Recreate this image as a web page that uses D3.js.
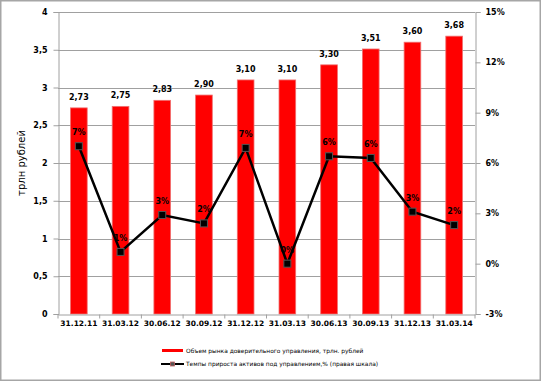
<!DOCTYPE html>
<html><head><meta charset="utf-8">
<script src="https://cdn.jsdelivr.net/npm/d3@7/dist/d3.min.js"></script>
<style>body{margin:0;background:#fff}svg{display:block}</style>
</head><body>
<script>
const categories = ["31.12.11","31.03.12","30.06.12","30.09.12","31.12.12","31.03.13","30.06.13","30.09.13","31.12.13","31.03.14"];
const volume = [2.73,2.75,2.83,2.90,3.10,3.10,3.30,3.51,3.60,3.68];
const volumeLabels = ["2,73","2,75","2,83","2,90","3,10","3,10","3,30","3,51","3,60","3,68"];
const growth = [7.0,0.7,2.9,2.4,6.9,0.0,6.4,6.3,3.1,2.3];
const growthLabels = ["7%","1%","3%","2%","7%","0%","6%","6%","3%","2%"];
const leftTicks = [0,0.5,1,1.5,2,2.5,3,3.5,4];
const rightTicks = [-3,0,3,6,9,12,15];
const legendNames = ["Объем  рынка доверительного управления, трлн. рублей","Темпы прироста активов под управлением,% (правая шкала)"];

const W=542,H=383;
const m={l:58,r:475,t:12,b:314};
const svg=d3.select("body").append("svg").attr("width",W).attr("height",H);
svg.append("rect").attr("x",0.75).attr("y",0.75).attr("width",539.5).attr("height",379.5)
  .attr("fill","#fff").attr("stroke","#a6a6a6").attr("stroke-width",1.5);

const x=d3.scaleBand().domain(categories).range([m.l,m.r]).paddingInner(0.6).paddingOuter(0.3);
const xb=d3.scaleBand().domain(categories).range([m.l,m.r]);
const y=d3.scaleLinear().domain([0,4]).range([m.b,m.t]);
const y2=d3.scaleLinear().domain([-3,15]).range([m.b,m.t]);
const font="DejaVu Sans";

// grid
svg.append("g").selectAll("line").data(leftTicks.slice(1)).join("line")
  .attr("x1",m.l).attr("x2",m.r).attr("y1",d=>Math.round(y(d))+0.5).attr("y2",d=>Math.round(y(d))+0.5)
  .attr("stroke","#a0a0a0").attr("stroke-width",1);

// bars
svg.append("g").selectAll("rect").data(volume).join("rect")
  .attr("x",(d,i)=>x(categories[i])).attr("width",x.bandwidth())
  .attr("y",d=>y(d)).attr("height",d=>y(0)-y(d))
  .attr("fill","#ff0000").attr("stroke","#f07070").attr("stroke-width",0.8);

// bar labels
svg.append("g").selectAll("text").data(volumeLabels).join("text")
  .attr("x",(d,i)=>xb(categories[i])+xb.bandwidth()/2).attr("y",(d,i)=>y(volume[i])-8)
  .attr("text-anchor","middle").attr("font-family",font).attr("font-weight","bold").attr("font-size",8)
  .text(d=>d);

// left axis
const gl=svg.append("g").attr("transform",`translate(${m.l+0.5},0)`)
  .call(d3.axisLeft(y).tickValues(leftTicks).tickSize(5).tickPadding(6).tickFormat(d=>String(d).replace(".",",")));
// right axis
const gr=svg.append("g").attr("transform",`translate(${m.r+0.5},0)`)
  .call(d3.axisRight(y2).tickValues(rightTicks).tickSize(5).tickPadding(5).tickFormat(d=>d+"%"));
// bottom axis
const gb=svg.append("g").attr("transform",`translate(0,${m.b+0.5})`)
  .call(d3.axisBottom(xb).tickSize(0).tickPadding(6));
gb.selectAll(".tick").append("line").attr("x1",-xb.bandwidth()/2).attr("x2",-xb.bandwidth()/2).attr("y2",4).attr("stroke","#a0a0a0");
gb.append("line").attr("x1",m.r).attr("x2",m.r).attr("y2",4).attr("stroke","#a0a0a0");
[gl,gr,gb].forEach(g=>{
  g.selectAll(".domain").attr("stroke","#a0a0a0");
  g.selectAll(".tick line").attr("stroke","#a0a0a0");
  g.selectAll("text").attr("font-family",font).attr("font-weight","bold").attr("font-size",8).attr("fill","#000");
});
gb.selectAll("text").attr("font-size",7.5);

// y title
svg.append("text").attr("transform","translate(25,163) rotate(-90)").attr("text-anchor","middle")
  .attr("font-family",font).attr("font-size",10).text("трлн рублей");

// line
const cx=(i)=>xb(categories[i])+xb.bandwidth()/2;
svg.append("path").datum(growth)
  .attr("d",d3.line().x((d,i)=>cx(i)).y(d=>y2(d)))
  .attr("fill","none").attr("stroke","#000").attr("stroke-width",2.5);
svg.append("g").selectAll("rect").data(growth).join("rect")
  .attr("x",(d,i)=>cx(i)-3.5).attr("y",d=>y2(d)-3.5).attr("width",7).attr("height",7)
  .attr("fill","#000").attr("stroke","#555").attr("stroke-width",1);
svg.append("g").selectAll("text").data(growthLabels).join("text")
  .attr("x",(d,i)=>cx(i)).attr("y",(d,i)=>y2(growth[i])-11)
  .attr("text-anchor","middle").attr("font-family",font).attr("font-weight","bold").attr("font-size",8)
  .text(d=>d);

// legend
const lg=svg.append("g");
lg.append("line").attr("x1",162).attr("x2",183).attr("y1",350.5).attr("y2",350.5).attr("stroke","#ff0000").attr("stroke-width",3);
lg.append("text").attr("x",186).attr("y",352.5).attr("font-family",font).attr("font-size",5.9).text(legendNames[0]);
lg.append("line").attr("x1",161).attr("x2",184).attr("y1",364).attr("y2",364).attr("stroke","#000").attr("stroke-width",2);
lg.append("rect").attr("x",170.5).attr("y",362).attr("width",4).attr("height",4).attr("fill","#555").attr("stroke","#c06060").attr("stroke-width",0.8);
lg.append("text").attr("x",186).attr("y",366).attr("font-family",font).attr("font-size",5.9).text(legendNames[1]);
</script>
</body></html>
